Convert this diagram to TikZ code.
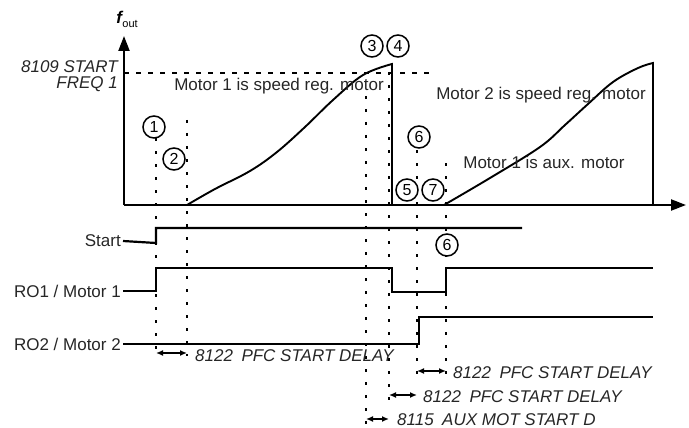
\documentclass[tikz,border=0pt]{standalone}
\usepackage{fontspec}
\setmainfont{Liberation Sans}
\usetikzlibrary{arrows.meta}
\begin{document}
\begin{tikzpicture}[x=1pt,y=-1pt,
  txt/.style={inner sep=0pt,font=\fontsize{17}{19}\selectfont,text=black!85},
  itxt/.style={inner sep=0pt,font=\fontsize{17}{19}\selectfont\itshape,text=black!85},
  num/.style={circle,draw,line width=1.5pt,fill=white,minimum size=22pt,inner sep=0pt,font=\fontsize{16}{16}\selectfont},
  axis/.style={line width=2.2pt,-{Triangle[length=15pt,width=11pt]}},
  sig/.style={line width=2.2pt},
  dots/.style={line width=2pt,dash pattern=on 3pt off 10pt},
  hdash/.style={line width=2pt,dash pattern=on 5pt off 7pt},
  delay/.style={line width=1.4pt,{Latex[length=7pt,width=6pt]}-{Latex[length=7pt,width=6pt]}}]
\useasboundingbox (0,0) rectangle (689,428);
% axes
\coordinate (O) at (124,205);
\coordinate (ytop) at (124,36);
\coordinate (xend) at (686,205);
\draw[axis] (O) -- (ytop);
\draw[axis] (O) -- (xend);
\node[inner sep=0pt] (fout) at (127,19) {\fontsize{17}{17}\selectfont\bfseries\itshape f\kern0.5pt\raisebox{-4pt}{\normalfont\fontsize{11}{11}\selectfont out}};
% start freq
\coordinate (fa) at (124,73);
\coordinate (fb) at (430,73);
\draw[hdash] (fa) -- (fb);
\node[itxt,anchor=east] (sf1) at (118,67) {8109 START};
\node[itxt,anchor=east] (sf2) at (118,84) {FREQ 1};
% curves
\draw[line width=1.9pt] plot[smooth,tension=0.6] coordinates {(187,205) (215,189) (250,171) (277,152) (305,127) (333,100) (363,75) (392,64)} -- (392,205);
\draw[line width=1.9pt] plot[smooth,tension=0.6] coordinates {(444,205) (490,178) (540,147) (565,125) (588,104) (613,82) (638,68) (653,63)} -- (653,205);
% texts in chart
\node[txt] (m1) at (279,86) {Motor 1 is speed reg. motor};
\node[txt] (m2) at (541,95) {Motor 2 is speed reg. motor};
\node[txt] (m3) at (544,162) {Motor 1 is aux. motor};
% dotted verticals
\draw[dots] (156,138) -- (156,356);
\draw[dots] (187,120) -- (187,356);
\draw[dots] (366,96) -- (366,424);
\draw[dots] (389,72) -- (389,400);
\draw[dots] (417,150) -- (417,374);
\draw[dots] (446,163) -- (446,374);
% signals
\node[txt,anchor=east] (ls) at (121,241) {Start};
\node[txt,anchor=east] (l1) at (121,291) {RO1 / Motor 1};
\node[txt,anchor=east] (l2) at (121,344) {RO2 / Motor 2};
\draw[sig] (ls.east) ++(2pt,0) -- (156,243) -- (156,228) -- (522,228);
\draw[sig] (l1.east) ++(2pt,0) -- (156,291) -- (156,268) -- (392,268) -- (392,292) -- (446,292) -- (446,268) -- (653,268);
\draw[sig] (l2.east) ++(2pt,0) -- (419,344) -- (419,317) -- (653,317);
% circled numbers
\node[num] (c1) at (154,127) {1};
\node[num] (c2) at (174,159) {2};
\node[num] (c3) at (372,46) {3};
\node[num] (c4) at (398,46) {4};
\node[num] (c6a) at (419,137) {6};
\node[num] (c5) at (407,190) {5};
\node[num] (c7) at (433,190) {7};
\node[num] (c6b) at (447,245) {6};
% delays
\coordinate (d1a) at (156,353); \coordinate (d1b) at (187,353);
\draw[delay] (d1a) -- (d1b);
\node[itxt,anchor=west] (t1) at (195,356) {8122\enspace PFC START DELAY};
\coordinate (d2a) at (417,371); \coordinate (d2b) at (446,371);
\draw[delay] (d2a) -- (d2b);
\node[itxt,anchor=west] (t2) at (453,373) {8122\enspace PFC START DELAY};
\coordinate (d3a) at (389,395); \coordinate (d3b) at (417,395);
\draw[delay] (d3a) -- (d3b);
\node[itxt,anchor=west] (t3) at (423,397) {8122\enspace PFC START DELAY};
\coordinate (d4a) at (366,419); \coordinate (d4b) at (389,419);
\draw[delay] (d4a) -- (d4b);
\node[itxt,anchor=west] (t4) at (397,420) {8115\enspace AUX MOT START D};
\end{tikzpicture}
\end{document}
